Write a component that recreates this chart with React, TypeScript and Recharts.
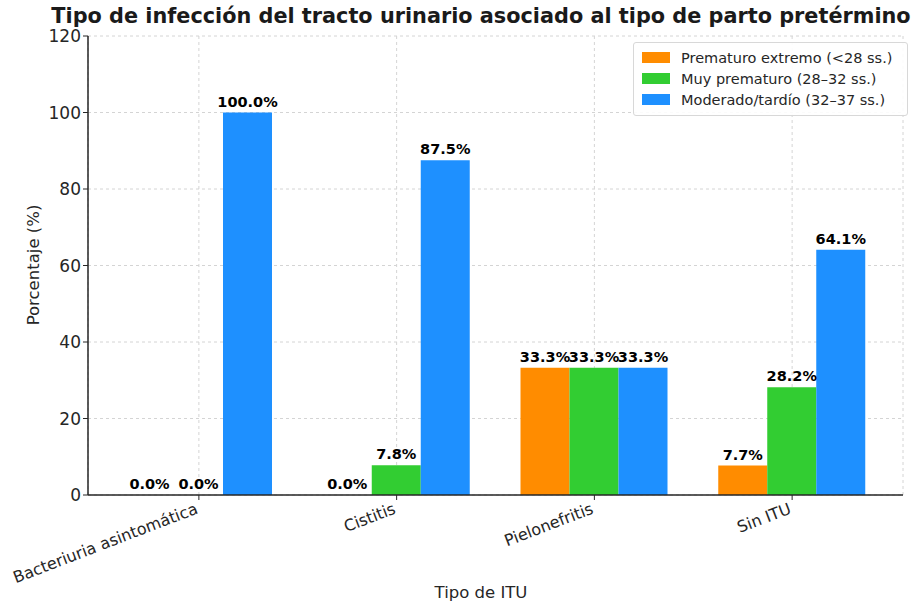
import React from 'react';
import { BarChart, Bar, XAxis, YAxis, CartesianGrid, LabelList, Cell } from 'recharts';

const categories = ['Bacteriuria asintomática', 'Cistitis', 'Pielonefritis', 'Sin ITU'];
const extremo = [0.0, 0.0, 33.3, 7.7];
const muy = [0.0, 7.8, 33.3, 28.2];
const moderado = [100.0, 87.5, 33.3, 64.1];
const yTicks = [0, 20, 40, 60, 80, 100, 120];

const series = [
  { key: 'extremo', name: 'Prematuro extremo (<28 ss.)', color: '#FF8C00', values: extremo },
  { key: 'muy', name: 'Muy prematuro (28–32 ss.)', color: '#32CD32', values: muy },
  { key: 'moderado', name: 'Moderado/tardío (32–37 ss.)', color: '#1E90FF', values: moderado },
];

const data = categories.map((name, i) => ({
  name,
  extremo: extremo[i],
  muy: muy[i],
  moderado: moderado[i],
}));

if (typeof document !== 'undefined') document.body.style.margin = '0';

const FONT = '"DejaVu Sans", sans-serif';

const BarLabel = (props: any) => {
  const { x, y, width, height, value } = props;
  const top = Math.min(y, y + height);
  return (
    <text x={x + width / 2} y={top - 6} textAnchor="middle" fontSize={14.5} fontWeight="bold" fill="#000" fontFamily={FONT}>
      {Number(value).toFixed(1)}%
    </text>
  );
};

const XTick = (props: any) => {
  const { x, y, payload } = props;
  return (
    <g transform={`translate(${x},${y + 11})`}>
      <text transform="rotate(-21)" textAnchor="end" fontSize={16} fill="#262626" fontFamily={FONT}>
        {payload.value}
      </text>
    </g>
  );
};

// legend drawn as a plain box over the plot, matplotlib style
const LegendBox = () => (
  <div style={{ position: 'absolute', left: 633, top: 42, width: 265, border: '1px solid #d8d8d8', borderRadius: 3, background: 'rgba(255,255,255,0.9)', padding: '4px 0 5px 8px', fontFamily: FONT, fontSize: 14.5, color: '#262626' }}>
    {series.map((s) => (
      <div key={s.key} style={{ display: 'flex', alignItems: 'center', height: 21 }}>
        <span style={{ display: 'inline-block', width: 28, height: 11, background: s.color, marginRight: 11 }} />
        <span>{s.name}</span>
      </div>
    ))}
  </div>
);

export default function App() {
  return (
    <div style={{ position: 'relative', width: 917, height: 608 }}>
      <BarChart width={917} height={608} data={data} margin={{ top: 36, right: 14, bottom: 0, left: 28 }} barGap={0} barSize={49}>
        <CartesianGrid stroke="#d4d4d4" strokeDasharray="3 3" />
        <XAxis
          dataKey="name"
          height={113}
          padding={{ left: 12, right: 12 }}
          tick={<XTick />}
          tickLine={{ stroke: '#262626' }}
          axisLine={{ stroke: '#262626', strokeWidth: 1.5 }}
          tickSize={5}
          interval={0}
        />
        <YAxis
          width={60}
          domain={[0, 120]}
          ticks={yTicks}
          tick={{ fontSize: 17, fill: '#262626', fontFamily: FONT }}
          tickLine={{ stroke: '#262626' }}
          axisLine={{ stroke: '#262626', strokeWidth: 1.5 }}
          tickSize={5}
          allowDataOverflow
        />
        {series.map((s) => (
          <Bar key={s.key} dataKey={s.key} name={s.name} fill={s.color} minPointSize={0.5} isAnimationActive={false}>
            {s.values.map((v, i) => (
              <Cell key={i} fill={v > 0 ? s.color : 'transparent'} />
            ))}
            <LabelList dataKey={s.key} content={<BarLabel />} />
          </Bar>
        ))}
        <text x={481} y={23} textAnchor="middle" fontSize={20.8} fontWeight="bold" fill="#1a1a1a" fontFamily={FONT}>
          Tipo de infección del tracto urinario asociado al tipo de parto pretérmino
        </text>
        <text x={481} y={598} textAnchor="middle" fontSize={16.5} fill="#262626" fontFamily={FONT}>
          Tipo de ITU
        </text>
        <text transform="translate(39,265) rotate(-90)" textAnchor="middle" fontSize={16.5} fill="#262626" fontFamily={FONT}>
          Porcentaje (%)
        </text>
      </BarChart>
      <LegendBox />
    </div>
  );
}
